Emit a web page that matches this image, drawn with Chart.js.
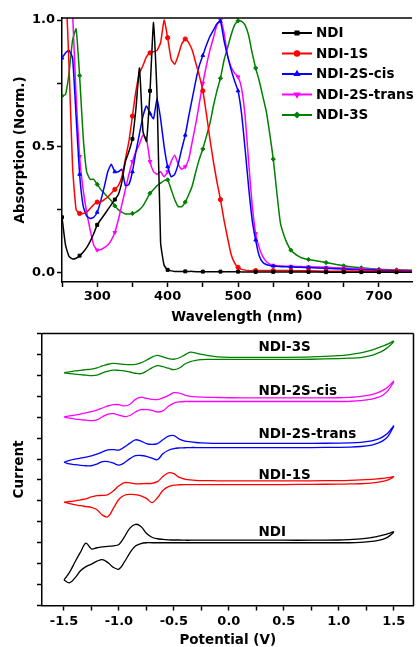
<!DOCTYPE html>
<html><head><meta charset="utf-8">
<script src="https://cdn.jsdelivr.net/npm/chart.js@4"></script>
<style>
html,body{margin:0;padding:0;background:#fff;width:417px;height:647px;overflow:hidden;}
#c1{position:absolute;left:0;top:0;}
#c2{position:absolute;left:0;top:320px;}
</style></head><body>
<canvas id="c1" width="417" height="330"></canvas>
<canvas id="c2" width="417" height="327"></canvas>
<script>
// ---------- Absorption data ----------
const wavelength = [250,255,260,265,270,275,280,285,290,295,300,305,310,315,320,325,330,335,340,345,350,355,360,365,370,375,380,385,390,395,400,405,410,415,420,425,430,435,440,445,450,455,460,465,470,475,480,485,490,495,500,505,510,515,520,525,530,535,540,545,550,555,560,565,570,575,580,585,590,595,600,625,650,675,700,725,750];
const absNDI = [0.22,0.11,0.065,0.055,0.058,0.068,0.082,0.10,0.125,0.155,
 0.19,0.21,0.23,0.25,0.27,0.29,0.31,0.36,0.44,0.48,
 0.53,0.65,0.81,0.56,0.52,0.72,0.99,0.70,0.12,0.03,
 0.012,0.008,0.006,0.006,0.006,0.006,0.006,0.006,0.005,0.005,
 0.005,0.005,0.005,0.005,0.005,0.005,0.005,0.005,0.005,0.005,
 0.005,0.004,0.004,0.004,0.004,0.004,0.004,0.004,0.004,0.004,
 0.004,0.004,0.004,0.004,0.004,0.004,0.004,0.004,0.004,0.004,
 0.004,0.003,0.003,0.003,0.003,0.003,0.003];
const absNDI1S = [1.35,1.15,0.82,0.42,0.25,0.235,0.235,0.24,0.255,0.27,
 0.28,0.28,0.29,0.30,0.315,0.33,0.345,0.38,0.45,0.52,
 0.62,0.72,0.79,0.82,0.855,0.87,0.875,0.88,0.91,1.0,
 0.93,0.845,0.825,0.86,0.905,0.925,0.91,0.88,0.83,0.78,
 0.72,0.63,0.53,0.44,0.36,0.29,0.21,0.14,0.075,0.04,
 0.022,0.014,0.011,0.009,0.009,0.009,0.009,0.009,0.009,0.009,
 0.009,0.009,0.009,0.009,0.009,0.008,0.008,0.008,0.008,0.008,
 0.008,0.007,0.007,0.007,0.006,0.006,0.006];
const absNDI2Scis = [0.85,0.87,0.88,0.85,0.62,0.39,0.265,0.225,0.215,0.22,
 0.24,0.285,0.34,0.40,0.43,0.40,0.40,0.41,0.345,0.35,
 0.40,0.48,0.55,0.62,0.66,0.63,0.61,0.69,0.61,0.50,
 0.42,0.38,0.39,0.43,0.49,0.545,0.62,0.69,0.76,0.82,
 0.86,0.90,0.935,0.96,0.985,0.995,0.92,0.86,0.805,0.76,
 0.72,0.63,0.49,0.34,0.21,0.13,0.068,0.042,0.033,0.029,
 0.027,0.026,0.025,0.024,0.024,0.023,0.023,0.022,0.022,0.021,
 0.021,0.018,0.015,0.012,0.01,0.008,0.007];
const absNDI2Strans = [1.45,1.35,1.2,1.03,0.70,0.46,0.33,0.24,0.17,0.11,
 0.09,0.092,0.10,0.11,0.13,0.16,0.21,0.27,0.33,0.39,
 0.44,0.48,0.51,0.545,0.53,0.44,0.40,0.39,0.40,0.38,
 0.40,0.44,0.465,0.43,0.41,0.42,0.45,0.52,0.59,0.67,
 0.75,0.82,0.88,0.93,0.98,1.0,0.95,0.86,0.815,0.79,
 0.775,0.73,0.62,0.44,0.27,0.155,0.10,0.065,0.045,0.035,
 0.03,0.028,0.027,0.027,0.026,0.026,0.025,0.025,0.025,0.024,
 0.024,0.022,0.019,0.016,0.012,0.01,0.009];
const absNDI3S = [0.70,0.705,0.79,0.92,0.965,0.78,0.54,0.40,0.37,0.37,
 0.35,0.33,0.315,0.30,0.285,0.265,0.25,0.24,0.233,0.233,
 0.235,0.24,0.25,0.265,0.29,0.315,0.33,0.345,0.355,0.365,
 0.368,0.33,0.29,0.262,0.262,0.28,0.31,0.345,0.40,0.45,
 0.49,0.54,0.59,0.66,0.72,0.77,0.84,0.89,0.94,0.98,
 0.997,0.995,0.98,0.94,0.87,0.81,0.76,0.70,0.64,0.55,
 0.45,0.32,0.20,0.15,0.115,0.09,0.077,0.067,0.06,0.056,
 0.053,0.041,0.028,0.02,0.014,0.012,0.01];
const absNames = ['NDI','NDI-1S','NDI-2S-cis','NDI-2S-trans','NDI-3S'];

// ---------- Cyclic voltammetry data (offset current, arbitrary units) ----------
const cvPotential = [-1.5,-1.45,-1.4,-1.35,-1.3,-1.25,-1.2,-1.15,-1.1,-1.05,
 -1.0,-0.95,-0.9,-0.85,-0.8,-0.75,-0.7,-0.65,-0.6,-0.55,
 -0.5,-0.45,-0.4,-0.35,-0.3,-0.25,-0.2,
 -0.1,0,0.25,0.5,0.75,1.0,1.1,1.2,1.3,1.35,1.4,1.45,1.5];
const cvNDIUpper = [1.22,1.58,2.08,2.55,2.98,2.70,2.76,2.80,2.83,2.85,
 2.92,3.28,3.70,3.88,3.78,3.45,3.26,3.19,3.16,3.14,
 3.13,3.13,3.12,3.12,3.12,3.12,3.12,
 3.12,3.12,3.12,3.12,3.12,3.13,3.15,3.18,3.25,3.3,3.36,3.43,3.52];
const cvNDILower = [1.22,1.08,1.32,1.66,1.86,1.98,2.12,2.19,2.05,1.82,
 1.74,2.08,2.52,2.84,2.96,3.0,3.0,3.0,3.0,3.0,
 3.0,3.0,3.0,3.0,3.0,3.0,3.0,
 3.0,3.0,3.0,3.0,3.0,3.0,3.0,3.02,3.06,3.1,3.16,3.28,3.52];
const cvNDI1SUpper = [4.94,4.97,5.0,5.05,5.1,5.19,5.25,5.26,5.3,5.48,
 5.72,5.87,5.86,5.81,5.82,5.83,5.84,5.92,6.16,6.34,
 6.3,6.12,6.04,6.0,5.98,5.97,5.97,
 5.96,5.96,5.96,5.96,5.96,5.97,5.98,6.0,6.03,6.05,6.08,6.11,6.16];
const cvNDI1SLower = [4.94,4.87,4.82,4.77,4.73,4.69,4.58,4.32,4.24,4.65,
 5.08,5.27,5.31,5.30,5.24,5.12,4.92,5.15,5.5,5.68,
 5.75,5.77,5.78,5.78,5.78,5.78,5.78,
 5.78,5.78,5.78,5.78,5.79,5.8,5.81,5.82,5.85,5.88,5.93,6.0,6.16];
const cvTransUpper = [6.85,6.94,7.0,7.04,7.09,7.15,7.23,7.34,7.44,7.45,
 7.43,7.58,7.76,7.92,7.86,7.74,7.70,7.74,7.92,8.09,
 8.12,7.95,7.86,7.82,7.79,7.77,7.76,
 7.75,7.75,7.75,7.75,7.75,7.76,7.77,7.8,7.87,7.94,8.06,8.26,8.58];
const cvTransLower = [6.85,6.77,6.73,6.70,6.68,6.68,6.76,6.88,6.88,6.80,
 6.71,6.82,7.02,7.16,7.17,7.13,7.04,6.97,7.25,7.42,
 7.5,7.53,7.54,7.55,7.55,7.55,7.55,
 7.55,7.55,7.55,7.55,7.55,7.56,7.57,7.6,7.67,7.75,7.87,8.1,8.58];
const cvCisUpper = [9.02,9.06,9.1,9.15,9.21,9.27,9.34,9.44,9.54,9.6,
 9.6,9.54,9.62,9.85,9.96,9.9,9.85,9.84,9.92,10.04,
 10.17,10.15,10.06,10.0,9.97,9.96,9.95,
 9.94,9.93,9.92,9.92,9.92,9.93,9.95,9.99,10.08,10.16,10.28,10.46,10.72];
const cvCisLower = [9.02,8.95,8.91,8.88,8.86,8.84,8.87,9.02,9.15,9.17,
 9.1,9.03,9.08,9.25,9.36,9.36,9.33,9.25,9.3,9.52,
 9.67,9.73,9.75,9.75,9.75,9.75,9.75,
 9.75,9.75,9.75,9.75,9.75,9.75,9.76,9.79,9.86,9.93,10.05,10.28,10.72];
const cv3SUpper = [11.12,11.17,11.21,11.24,11.27,11.3,11.36,11.45,11.53,11.57,
 11.55,11.52,11.51,11.52,11.6,11.72,11.87,11.95,11.88,11.8,
 11.77,11.84,11.98,12.11,12.06,12.0,11.95,
 11.88,11.86,11.86,11.86,11.88,11.94,11.99,12.07,12.2,12.3,12.4,12.5,12.63];
const cv3SLower = [11.12,11.08,11.06,11.03,11.01,10.99,11.01,11.12,11.2,11.25,
 11.24,11.21,11.16,11.1,11.08,11.2,11.36,11.46,11.42,11.34,
 11.27,11.35,11.54,11.66,11.72,11.75,11.76,
 11.76,11.76,11.76,11.76,11.77,11.8,11.82,11.85,11.95,12.05,12.17,12.35,12.63];
const cvNames = ['NDI','NDI-1S','NDI-2S-trans','NDI-2S-cis','NDI-3S'];

// ---------- styles ----------
const FONT = "'DejaVu Sans', sans-serif";
Chart.defaults.font.family = FONT;
Chart.defaults.color = '#000';
const absStyles = [
  {color:'#000000', marker:'rect', rot:0},
  {color:'#ff0000', marker:'circle', rot:0},
  {color:'#0000ff', marker:'triangle', rot:0},
  {color:'#ff00ff', marker:'triangle', rot:180},
  {color:'#008000', marker:'rectRot', rot:0}
];
const cvColors = ['#000000','#ff0000','#0000ff','#ff00ff','#008000'];
const cvLabelPos = [{x:0.27,y:3.51},{x:0.27,y:6.2},{x:0.27,y:8.15},{x:0.27,y:10.24},{x:0.27,y:12.33}];

const framePlugin = {
  id:'frame',
  afterDraw(chart, args, opts){
    const {ctx, chartArea:a} = chart;
    ctx.save(); ctx.strokeStyle='#000'; ctx.lineWidth=1.5; ctx.beginPath();
    ctx.moveTo(a.left, a.top); ctx.lineTo(a.right, a.top);
    if (opts.right){ ctx.moveTo(a.right, a.top); ctx.lineTo(a.right, a.bottom); }
    ctx.stroke(); ctx.restore();
  }
};
const legendPlugin = {
  id:'insideLegend',
  afterDraw(chart, args, opts){
    if (!opts.show) return;
    const ctx = chart.ctx;
    ctx.save();
    chart.data.datasets.forEach((ds,i)=>{
      const y = opts.y0 + i*opts.dy;
      ctx.strokeStyle = ds.borderColor; ctx.lineWidth = 2;
      ctx.beginPath(); ctx.moveTo(opts.x0, y); ctx.lineTo(opts.x0+opts.len, y); ctx.stroke();
      ctx.fillStyle = ds.borderColor; ctx.strokeStyle = ds.borderColor;
      Chart.helpers.drawPoint(ctx, {pointStyle: ds.pointStyle, rotation: ds.pointRotation, radius: 2.2, borderWidth: 1}, opts.x0+opts.len/2, y);
      ctx.fillStyle = '#000';
      ctx.font = "bold 13.5px " + FONT; ctx.textBaseline='middle'; ctx.textAlign='left';
      ctx.fillText(ds.label, opts.x0+opts.len+4, y+0.5);
    });
    ctx.restore();
  }
};
const cvLabelPlugin = {
  id:'cvLabels',
  afterDraw(chart, args, opts){
    if (!opts.show) return;
    const {ctx, scales:{x, y}} = chart;
    ctx.save(); ctx.fillStyle='#000'; ctx.font = "bold 13.5px " + FONT;
    ctx.textBaseline='middle'; ctx.textAlign='left';
    chart.data.datasets.forEach((ds,i)=>{
      const p = cvLabelPos[i];
      ctx.fillText(ds.label, x.getPixelForValue(p.x), y.getPixelForValue(p.y));
    });
    ctx.restore();
  }
};

const tickFont = {family:FONT, size:13, weight:'bold'};
const titleFont = {family:FONT, size:13.5, weight:'bold'};

// ---------- top chart: absorption ----------
const absSeries = [absNDI, absNDI1S, absNDI2Scis, absNDI2Strans, absNDI3S];
new Chart(document.getElementById('c1'), {
  type:'line',
  data:{datasets: absSeries.map((vals,k)=>({
    label: absNames[k],
    data: wavelength.map((w,i)=>({x:w, y:vals[i]})),
    borderColor: absStyles[k].color, backgroundColor: absStyles[k].color,
    borderWidth: 1.5, pointStyle: absStyles[k].marker, pointRotation: absStyles[k].rot,
    pointRadius: c => (wavelength[c.dataIndex] % 25 === 0 ? 2.1 : 0),
    pointBorderWidth: 1, tension: 0.15, clip: 0, fill: false
  }))},
  options:{
    responsive:false, animation:false, events:[],
    layout:{padding:{top:18, right:0, bottom:0, left:0}},
    plugins:{legend:{display:false}, tooltip:{enabled:false},
      frame:{right:false}, insideLegend:{show:true, x0:282, y0:33, dy:20.5, len:30}, cvLabels:{show:false}},
    scales:{
      x:{type:'linear', min:250, max:747,
        afterFit: s => { s.height = 48; },
        ticks:{stepSize:50, includeBounds:false, autoSkip:false, maxRotation:0, padding:2, font:tickFont,
          callback: v => (v % 100 === 0 ? String(v) : '')},
        grid:{drawOnChartArea:false, tickLength:5, tickColor:'#000', tickWidth:1.5},
        border:{display:true, color:'#000', width:1.5},
        title:{display:true, text:'Wavelength (nm)', font:titleFont, padding:{top:0, bottom:4}}},
      y:{min:-0.036, max:1.008,
        afterFit: s => { s.width = 62; },
        ticks:{stepSize:0.25, includeBounds:false, autoSkip:false, padding:2, font:tickFont,
          callback: v => (Math.abs(v*2 - Math.round(v*2)) < 1e-6 ? v.toFixed(1) : '')},
        grid:{drawOnChartArea:false, tickLength:5, tickColor:'#000', tickWidth:1.5},
        border:{display:true, color:'#000', width:1.5},
        title:{display:true, text:'Absorption (Norm.)', font:titleFont, padding:{top:12, bottom:0}}}
    }
  },
  plugins:[framePlugin, legendPlugin, cvLabelPlugin]
});

// ---------- bottom chart: cyclic voltammetry ----------
function loop(upper, lower){
  const pts = cvPotential.map((v,i)=>({x:v, y:upper[i]}));
  for (let i = cvPotential.length-2; i >= 0; i--) pts.push({x:cvPotential[i], y:lower[i]});
  return pts;
}
const cvSeries = [[cvNDIUpper,cvNDILower],[cvNDI1SUpper,cvNDI1SLower],[cvTransUpper,cvTransLower],[cvCisUpper,cvCisLower],[cv3SUpper,cv3SLower]];
new Chart(document.getElementById('c2'), {
  type:'line',
  data:{datasets: cvSeries.map((s,k)=>({
    label: cvNames[k], data: loop(s[0], s[1]),
    borderColor: cvColors[k], backgroundColor: cvColors[k],
    borderWidth: 1.3, pointRadius: 0, tension: 0.35, fill:false, clip: 0
  }))},
  options:{
    responsive:false, animation:false, events:[],
    layout:{padding:{top:13.5, right:3.5, bottom:0, left:0}},
    plugins:{legend:{display:false}, tooltip:{enabled:false},
      frame:{right:true}, insideLegend:{show:false}, cvLabels:{show:true}},
    scales:{
      x:{type:'linear', min:-1.7, max:1.68,
        afterFit: s => { s.height = 41.5; },
        ticks:{stepSize:0.25, includeBounds:false, autoSkip:false, maxRotation:0, padding:3, font:tickFont,
          callback: v => (Math.abs(v*2 - Math.round(v*2)) < 1e-6 ? v.toFixed(1) : '')},
        grid:{drawOnChartArea:false, tickLength:5, tickColor:'#000', tickWidth:1.5},
        border:{display:true, color:'#000', width:1.5},
        title:{display:true, text:'Potential (V)', font:titleFont, padding:{top:0, bottom:-2}}},
      y:{min:0, max:13,
        afterFit: s => { s.width = 42; },
        ticks:{stepSize:1, includeBounds:false, autoSkip:false, padding:0, font:tickFont, callback: () => ''},
        grid:{drawOnChartArea:false, tickLength:5, tickColor:'#000', tickWidth:1.5},
        border:{display:true, color:'#000', width:1.5},
        title:{display:true, text:'Current', font:titleFont, padding:{top:11, bottom:0}}}
    }
  },
  plugins:[framePlugin, legendPlugin, cvLabelPlugin]
});
</script>
</body></html>
